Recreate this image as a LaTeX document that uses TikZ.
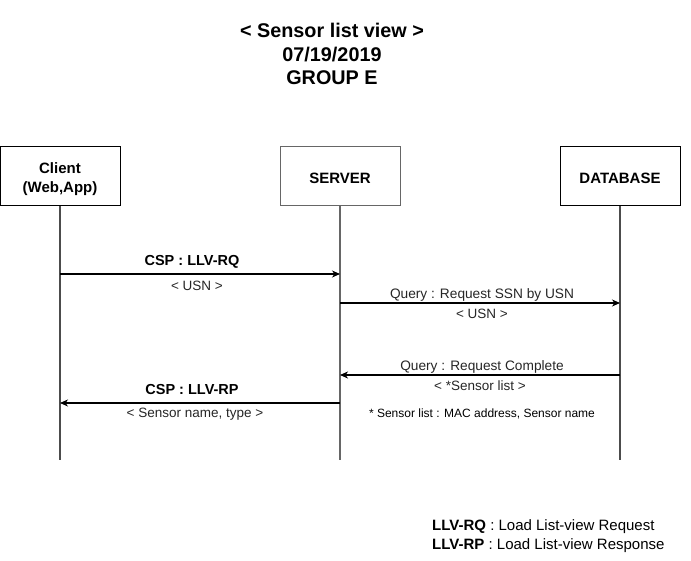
\documentclass[tikz,border=0pt]{standalone}
\usepackage{fontspec}
\setmainfont{Liberation Sans}
\usetikzlibrary{arrows.meta}
\tikzset{
  actor/.style={draw=black, line width=1pt, minimum width=120pt, minimum height=59pt, align=center, font=\fontsize{15}{19}\selectfont\bfseries, inner sep=0pt, text depth=0pt},
  lifeline/.style={draw=black!70, line width=1.1pt},
  msgarrow/.style={draw=black, line width=1.1pt, -{Stealth[length=8pt,width=7pt,inset=2.5pt]}},
  boldlbl/.style={font=\fontsize{14.5}{17}\selectfont\bfseries, inner sep=0pt},
  lbl/.style={font=\fontsize{13.7}{16}\selectfont, inner sep=0pt, text=black!85},
  smalllbl/.style={font=\fontsize{13.5}{16}\selectfont, inner sep=0pt, text=black!85},
  foot/.style={font=\fontsize{12}{14}\selectfont, inner sep=0pt},
  legend/.style={font=\fontsize{15}{19}\selectfont, inner sep=0pt, align=left, anchor=west}
}
\begin{document}
\begin{tikzpicture}[x=1pt,y=-1pt]
\useasboundingbox (0,0) rectangle (691,561);
% title
\node[font=\fontsize{19.8}{23.5}\selectfont\bfseries, align=center, inner sep=0pt] (title) at (332,54) {< Sensor list view >\\07/19/2019\\GROUP E};
% actors
\node[actor] (client) at (60,176.5) {};
\node[actor, draw=black!60] (server) at (340,176.5) {};
\node[actor] (db) at (620,176.5) {};
\node[actor, draw=none] (clientTxt) at (60,178) {Client\\(Web,App)};
\node[actor, draw=none] (serverTxt) at (340,178) {SERVER};
\node[actor, draw=none] (dbTxt) at (620,178) {DATABASE};
% lifeline ends
\coordinate (clientEnd) at (60,460);
\coordinate (serverEnd) at (340,460);
\coordinate (dbEnd) at (620,460);
\draw[lifeline] (client.south) -- (clientEnd);
\draw[lifeline, draw=black!60] (server.south) -- (serverEnd);
\draw[lifeline] (db.south) -- (dbEnd);
% message points
\coordinate (c1) at (60,274);  \coordinate (s1) at (340,274);
\coordinate (s2) at (340,303); \coordinate (d2) at (620,303);
\coordinate (d3) at (620,375); \coordinate (s3) at (340,375);
\coordinate (s4) at (340,403); \coordinate (c4) at (60,403);
\draw[msgarrow] (c1) -- (s1);
\draw[msgarrow] (s2) -- (d2);
\draw[msgarrow] (d3) -- (s3);
\draw[msgarrow] (s4) -- (c4);
% labels
\node[boldlbl] (l1) at (192,262) {CSP : LLV-RQ};
\node[smalllbl] (l1b) at (197,286) {< USN >};
\node[lbl] (l2) at (482,295) {Query : Request SSN by USN};
\node[smalllbl] (l2b) at (482,314) {< USN >};
\node[lbl] (l3) at (482,367) {Query : Request Complete};
\node[smalllbl] (l3b) at (480,386) {< *Sensor list >};
\node[foot] (l3c) at (482,414) {* Sensor list : MAC address, Sensor name};
\node[boldlbl] (l4) at (192,390) {CSP : LLV-RP};
\node[smalllbl] (l4b) at (195,414) {< Sensor name, type >};
% legend
\node[legend] (leg) at (432,536.5) {\textbf{LLV-RQ} : Load List-view Request\\\textbf{LLV-RP} : Load List-view Response};
\end{tikzpicture}
\end{document}
